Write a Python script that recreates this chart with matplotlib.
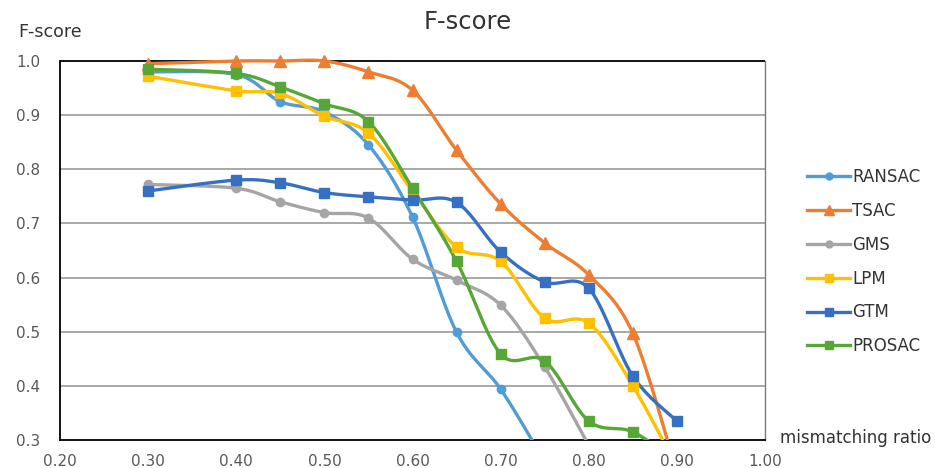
import numpy as np
import matplotlib
matplotlib.use("Agg")
import matplotlib.pyplot as plt

x = [0.30, 0.40, 0.45, 0.50, 0.55, 0.60, 0.65, 0.70, 0.75, 0.80, 0.85, 0.90]
ransac = [0.980, 0.975, 0.925, 0.906, 0.845, 0.712, 0.499, 0.394, 0.26]
tsac   = [0.995, 1.000, 1.000, 1.000, 0.980, 0.946, 0.835, 0.736, 0.664, 0.605, 0.497, 0.24]
gms    = [0.772, 0.765, 0.740, 0.720, 0.710, 0.634, 0.595, 0.549, 0.435, 0.29]
lpm    = [0.972, 0.945, 0.940, 0.898, 0.867, 0.760, 0.656, 0.630, 0.525, 0.516, 0.400, 0.25]
gtm    = [0.760, 0.780, 0.775, 0.757, 0.749, 0.743, 0.739, 0.647, 0.592, 0.580, 0.418, 0.335]
prosac = [0.985, 0.977, 0.952, 0.921, 0.888, 0.765, 0.630, 0.459, 0.446, 0.335, 0.315, 0.26]

series = [
    ("RANSAC", ransac, "#4F9CD6", "o", 6),
    ("TSAC", tsac, "#ED7D31", "^", 8),
    ("GMS", gms, "#A5A5A5", "o", 6),
    ("LPM", lpm, "#FFC000", "s", 7),
    ("GTM", gtm, "#3570C2", "s", 7),
    ("PROSAC", prosac, "#57A737", "s", 7),
]

def smooth(xs, ys, n=30):
    xs = np.asarray(xs, float); ys = np.asarray(ys, float)
    P = np.column_stack([xs, ys])
    out = []
    for i in range(len(P) - 1):
        p0 = P[i - 1] if i > 0 else P[i]
        p1 = P[i]; p2 = P[i + 1]
        p3 = P[i + 2] if i + 2 < len(P) else P[i + 1]
        c1 = p1 + (p2 - p0) / 6.0
        c2 = p2 - (p3 - p1) / 6.0
        t = np.linspace(0, 1, n)[:, None]
        seg = (1 - t) ** 3 * p1 + 3 * (1 - t) ** 2 * t * c1 + 3 * (1 - t) * t ** 2 * c2 + t ** 3 * p2
        out.append(seg if i == 0 else seg[1:])
    s = np.vstack(out)
    return s[:, 0], s[:, 1]

fig = plt.figure(figsize=(9.35, 4.68), dpi=100)
ax = fig.add_axes([0.0642, 0.0598, 0.754, 0.833])
ax.set_xlim(0.20, 1.00)
ax.set_ylim(0.30, 1.02)

for yv in [0.4, 0.5, 0.6, 0.7, 0.8, 0.9]:
    ax.axhline(yv, color="#9a9a9a", lw=1.2, zorder=1)
ax.axhline(1.0, color="black", lw=1.3, zorder=1)

for name, ys, col, mk, ms in series:
    xs = x[:len(ys)]
    sx, sy = smooth(xs, ys)
    ax.plot(sx, sy, color=col, lw=2.4, zorder=3, solid_capstyle="round")
    xm = [a for a, b in zip(xs, ys) if b >= 0.3]
    ym = [b for b in ys if b >= 0.3]
    ax.plot(xm, ym, ls="none", marker=mk, ms=ms, color=col, zorder=4, clip_on=False)
    ax.plot([], [], color=col, lw=2.4, marker=mk, ms=ms - 1, label=name)

ax.spines["top"].set_visible(False)
ax.spines["left"].set_bounds(0.3, 1.0)
ax.spines["left"].set_color("black")
ax.spines["left"].set_linewidth(1.3)
ax.spines["bottom"].set_color("black")
ax.spines["bottom"].set_linewidth(1.3)
ax.spines["right"].set_bounds(0.3, 1.0)
ax.spines["right"].set_color("#7a7a7a")
ax.spines["right"].set_linewidth(1.0)

xt = [0.20, 0.30, 0.40, 0.50, 0.60, 0.70, 0.80, 0.90, 1.00]
yt = [0.3, 0.4, 0.5, 0.6, 0.7, 0.8, 0.9, 1.0]
ax.set_xticks(xt)
ax.set_xticklabels([f"{v:.2f}" for v in xt])
ax.set_yticks(yt)
ax.set_yticklabels([f"{v:.1f}" for v in yt])
ax.tick_params(axis="both", length=0, labelsize=11, labelcolor="#595959")
ax.tick_params(axis="y", pad=14)
ax.tick_params(axis="x", pad=10)

fig.text(0.5, 0.953, "F-score", ha="center", va="center", fontsize=17.5, color="#333333")
fig.text(0.019, 0.932, "F-score", ha="left", va="center", fontsize=12.5, color="#333333")
fig.text(0.834, 0.064, "mismatching ratio", ha="left", va="center", fontsize=12, color="#333333")

leg = fig.legend(loc="upper left", bbox_to_anchor=(0.856, 0.655), frameon=False,
                 fontsize=12, handlelength=2.6, handletextpad=0.1, labelspacing=0.95,
                 borderaxespad=0)
for t in leg.get_texts():
    t.set_color("#333333")

fig.savefig("out.png", dpi=100)
